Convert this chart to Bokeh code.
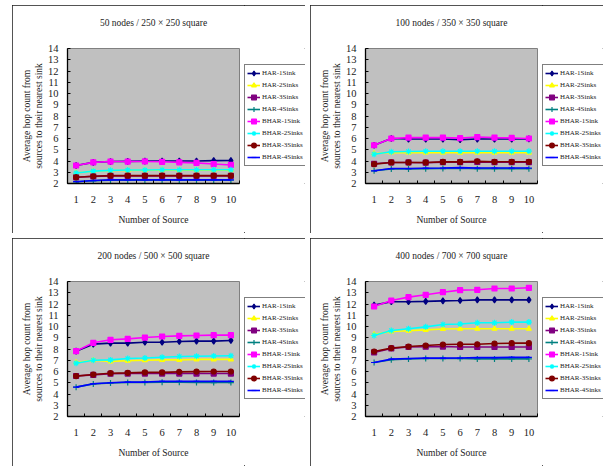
import math
from bokeh.plotting import figure
from bokeh.models import (Legend, LegendItem, FixedTicker, Range1d, ColumnDataSource,
                          LinearAxis)
from bokeh.layouts import row, column
from bokeh.embed import file_html
from bokeh.resources import INLINE

# ---------------- data ----------------
sources = [1, 2, 3, 4, 5, 6, 7, 8, 9, 10]
series_names = ["HAR-1Sink", "HAR-2Sinks", "HAR-3Sinks", "HAR-4Sinks",
                "BHAR-1Sink", "BHAR-2Sinks", "BHAR-3Sinks", "BHAR-4Sinks"]
panel_titles = ["50 nodes / 250 \u00d7 250 square", "100 nodes / 350 \u00d7 350 square",
                "200 nodes / 500 \u00d7 500 square", "400 nodes / 700 \u00d7 700 square"]
y_ticks = [2, 3, 4, 5, 6, 7, 8, 9, 10, 11, 12, 13, 14]
x_label = "Number of Source"
y_label_1 = "Average hop count from"
y_label_2 = "sources to their nearest sink"

# 50 nodes
n50_har1 = [3.6, 3.88, 3.95, 3.97, 3.99, 4.0, 4.0, 4.0, 4.03, 4.04]
n50_har2 = [2.93, 3.1, 3.15, 3.17, 3.18, 3.18, 3.18, 3.18, 3.18, 3.18]
n50_har3 = [2.55, 2.63, 2.68, 2.68, 2.68, 2.68, 2.68, 2.68, 2.68, 2.68]
n50_har4 = [2.15, 2.25, 2.3, 2.3, 2.3, 2.3, 2.3, 2.3, 2.3, 2.3]
n50_bhar1 = [3.6, 3.88, 3.95, 3.95, 3.96, 3.93, 3.88, 3.83, 3.73, 3.65]
n50_bhar2 = [2.93, 3.1, 3.17, 3.2, 3.2, 3.22, 3.22, 3.22, 3.22, 3.22]
n50_bhar3 = [2.56, 2.64, 2.7, 2.7, 2.7, 2.7, 2.7, 2.7, 2.7, 2.7]
n50_bhar4 = [2.16, 2.26, 2.32, 2.32, 2.32, 2.32, 2.32, 2.32, 2.32, 2.32]

# 100 nodes
n100_har1 = [5.4, 6.0, 5.95, 5.95, 5.95, 5.9, 5.95, 5.95, 5.95, 5.97]
n100_har2 = [4.67, 4.75, 4.74, 4.74, 4.74, 4.74, 4.74, 4.74, 4.74, 4.74]
n100_har3 = [3.75, 3.87, 3.87, 3.85, 3.9, 3.9, 3.92, 3.9, 3.9, 3.9]
n100_har4 = [3.13, 3.3, 3.3, 3.32, 3.33, 3.35, 3.32, 3.32, 3.32, 3.32]
n100_bhar1 = [5.4, 6.0, 6.08, 6.08, 6.08, 6.03, 6.13, 6.08, 6.05, 6.0]
n100_bhar2 = [4.6, 4.82, 4.85, 4.87, 4.87, 4.87, 4.87, 4.87, 4.87, 4.87]
n100_bhar3 = [3.72, 3.87, 3.87, 3.87, 3.92, 3.92, 3.97, 3.93, 3.93, 3.93]
n100_bhar4 = [3.13, 3.33, 3.33, 3.36, 3.38, 3.41, 3.38, 3.38, 3.38, 3.38]

# 200 nodes
n200_har1 = [7.81, 8.43, 8.52, 8.52, 8.6, 8.6, 8.67, 8.7, 8.7, 8.76]
n200_har2 = [6.8, 7.0, 6.9, 6.96, 7.0, 7.03, 7.03, 7.08, 7.08, 7.08]
n200_har3 = [5.6, 5.7, 5.8, 5.82, 5.82, 5.82, 5.82, 5.82, 5.82, 5.82]
n200_har4 = [4.61, 4.9, 4.98, 5.03, 5.03, 5.05, 5.05, 5.03, 5.02, 5.02]
n200_bhar1 = [7.81, 8.55, 8.82, 8.9, 9.02, 9.11, 9.17, 9.2, 9.23, 9.23]
n200_bhar2 = [6.74, 7.0, 7.03, 7.16, 7.2, 7.27, 7.33, 7.36, 7.38, 7.4]
n200_bhar3 = [5.59, 5.73, 5.85, 5.88, 5.92, 5.92, 5.97, 5.99, 6.0, 6.0]
n200_bhar4 = [4.61, 4.91, 5.0, 5.06, 5.06, 5.12, 5.12, 5.12, 5.12, 5.12]

# 400 nodes
n400_har1 = [11.9, 12.2, 12.2, 12.23, 12.28, 12.31, 12.37, 12.37, 12.37, 12.37]
n400_har2 = [9.3, 9.56, 9.62, 9.7, 9.78, 9.8, 9.8, 9.8, 9.8, 9.8]
n400_har3 = [7.7, 8.05, 8.18, 8.2, 8.22, 8.18, 8.18, 8.18, 8.18, 8.18]
n400_har4 = [6.8, 7.05, 7.12, 7.15, 7.15, 7.15, 7.12, 7.12, 7.12, 7.12]
n400_bhar1 = [11.78, 12.31, 12.61, 12.82, 13.05, 13.23, 13.26, 13.38, 13.38, 13.44]
n400_bhar2 = [9.2, 9.64, 9.8, 9.97, 10.18, 10.22, 10.33, 10.33, 10.39, 10.39]
n400_bhar3 = [7.78, 8.08, 8.22, 8.31, 8.4, 8.42, 8.42, 8.49, 8.52, 8.52]
n400_bhar4 = [6.8, 7.1, 7.15, 7.19, 7.19, 7.2, 7.23, 7.23, 7.26, 7.26]

panel_data = [
    [n50_har1, n50_har2, n50_har3, n50_har4, n50_bhar1, n50_bhar2, n50_bhar3, n50_bhar4],
    [n100_har1, n100_har2, n100_har3, n100_har4, n100_bhar1, n100_bhar2, n100_bhar3, n100_bhar4],
    [n200_har1, n200_har2, n200_har3, n200_har4, n200_bhar1, n200_bhar2, n200_bhar3, n200_bhar4],
    [n400_har1, n400_har2, n400_har3, n400_har4, n400_bhar1, n400_bhar2, n400_bhar3, n400_bhar4],
]

# ---------------- styles ----------------
colors = ["#000080", "#FFFF00", "#800080", "#008080",
          "#FF00FF", "#00FFFF", "#800000", "#0000FF"]
markers = ["diamond", "triangle", "square", "cross",
           "square", "asterisk", "circle", "dash"]
msizes = [6, 5, 5, 6, 5, 6, 5, 6]
FONT = "Liberation Serif, Times New Roman, serif"
TXT = "#222222"

BOX_W, H = 293, 228
MAIN_W = 232
LEG_W = BOX_W - MAIN_W
ML, MR, MT, MB = 55, 5, 43, 50
BOX_CSS = ":host { outline: 1.5px solid #1a1a1a; outline-offset: -1.5px; }"


def blank_axis(label, standoff):
    return LinearAxis(ticker=FixedTicker(ticks=[]), axis_label=label,
                      axis_line_color=None, major_tick_line_color=None,
                      minor_tick_line_color=None, major_tick_in=0, major_tick_out=0,
                      minor_tick_in=0, minor_tick_out=0, major_label_standoff=0,
                      axis_label_standoff=standoff, axis_label_text_font=FONT,
                      axis_label_text_font_size="9.5px",
                      axis_label_text_font_style="normal", axis_label_text_color=TXT)


def make_panel(title, data):
    p = figure(width=MAIN_W, height=H, x_range=Range1d(0.5, 10.5), y_range=Range1d(2, 14),
               output_backend="svg", toolbar_location=None, title=None,
               min_border_left=ML, min_border_right=MR, min_border_top=MT,
               min_border_bottom=MB, background_fill_color="#C0C0C0",
               border_fill_color="white", outline_line_color="#808080",
               outline_line_width=1)
    p.grid.visible = False

    yax = p.left[0]
    xax = p.below[0]

    # title as the label of a blank axis above the plot
    p.add_layout(blank_axis(title, 21), "above")

    yax.ticker = FixedTicker(ticks=y_ticks)
    yax.major_tick_in = 3
    yax.major_tick_out = 0
    yax.minor_tick_line_color = None
    yax.axis_line_color = "black"
    yax.axis_line_width = 1.3
    yax.major_tick_line_color = "black"
    yax.major_label_standoff = 9
    yax.major_label_text_font = FONT
    yax.major_label_text_font_size = "10.5px"
    yax.major_label_text_color = TXT
    yax.axis_label = y_label_2
    yax.axis_label_standoff = 1
    yax.axis_label_text_font = FONT
    yax.axis_label_text_font_size = "9.5px"
    yax.axis_label_text_font_style = "normal"
    yax.axis_label_text_color = TXT

    p.add_layout(blank_axis(y_label_1, -1), "left")

    xax.ticker = FixedTicker(ticks=sources, minor_ticks=[s - 0.5 for s in sources] + [10.5])
    xax.major_tick_in = 0
    xax.major_tick_out = 0
    xax.minor_tick_in = 3
    xax.minor_tick_out = 0
    xax.minor_tick_line_color = "black"
    xax.axis_line_color = "black"
    xax.axis_line_width = 1.3
    xax.major_label_standoff = 12
    xax.major_label_text_font = FONT
    xax.major_label_text_font_size = "10.5px"
    xax.major_label_text_color = TXT
    xax.axis_label = x_label
    xax.axis_label_standoff = 9
    xax.axis_label_text_font = FONT
    xax.axis_label_text_font_size = "9.5px"
    xax.axis_label_text_font_style = "normal"
    xax.axis_label_text_color = TXT

    # legend lives in a small companion figure to the right; its series copies
    # sit outside its visible ranges so only the legend entries show
    lf = figure(width=LEG_W, height=H, x_range=Range1d(-30, -20), y_range=Range1d(-30, -20),
                output_backend="svg", toolbar_location=None, title=None,
                x_axis_location=None, y_axis_location=None,
                min_border=0, min_border_left=0, min_border_right=0,
                min_border_top=MT, min_border_bottom=MB,
                background_fill_color="white", border_fill_color="white",
                outline_line_color=None)
    lf.grid.visible = False

    items = []
    for name, vals, c, m, ms in zip(series_names, data, colors, markers, msizes):
        src = ColumnDataSource(dict(x=sources, y=vals))
        p.line("x", "y", source=src, line_color=c, line_width=1.6)
        p.scatter("x", "y", source=src, marker=m, size=ms, fill_color=c,
                  line_color=c, line_width=1.2)
        lr = lf.line("x", "y", source=src, line_color=c, line_width=1.6)
        sr = lf.scatter("x", "y", source=src, marker=m, size=ms, fill_color=c,
                        line_color=c, line_width=1.2)
        items.append(LegendItem(label=name, renderers=[lr, sr]))

    leg = Legend(items=items, location=(0, 17), orientation="vertical",
                 border_line_color="black", border_line_width=1,
                 background_fill_color="white", background_fill_alpha=1,
                 label_text_font=FONT, label_text_font_size="7px",
                 label_text_color=TXT,
                 glyph_width=13, glyph_height=12, label_height=12,
                 label_standoff=2, spacing=0, padding=2, margin=0)
    lf.add_layout(leg)
    return row(p, lf, spacing=0, stylesheets=[BOX_CSS])


panels = [make_panel(t, d) for t, d in zip(panel_titles, panel_data)]
layout = column(row(panels[0], panels[1], spacing=5),
                row(panels[2], panels[3], spacing=5),
                spacing=5, margin=(5, 0, 0, 12))

open("out.html", "w").write(file_html(layout, INLINE))
